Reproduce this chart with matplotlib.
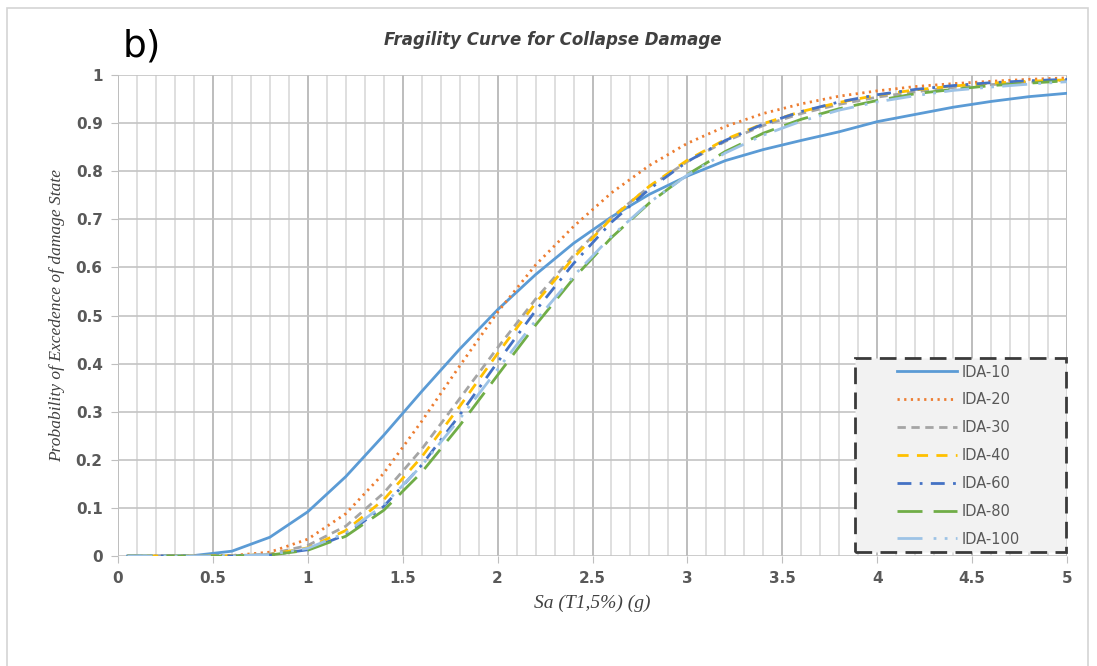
import matplotlib.pyplot as plt
from matplotlib.patches import Rectangle

# Sa values (g)
sa = [0.05, 0.2, 0.4, 0.6, 0.8, 1.0, 1.2, 1.4, 1.6, 1.8, 2.0, 2.2, 2.4,
      2.6, 2.8, 3.0, 3.2, 3.4, 3.6, 3.8, 4.0, 4.2, 4.4, 4.6, 4.8, 5.0]

ida10 = [0.0, 0.0, 0.001, 0.010, 0.039, 0.092, 0.165, 0.251, 0.342, 0.430, 0.512, 0.585, 0.650,
         0.705, 0.752, 0.790, 0.822, 0.845, 0.864, 0.882, 0.903, 0.918, 0.933, 0.945, 0.955, 0.962]
ida20 = [0.0, 0.0, 0.0, 0.001, 0.008, 0.035, 0.088, 0.172, 0.280, 0.395, 0.507, 0.605, 0.685,
         0.755, 0.812, 0.858, 0.893, 0.920, 0.940, 0.956, 0.967, 0.976, 0.982, 0.987, 0.991, 0.994]
ida30 = [0.0, 0.0, 0.0, 0.0003, 0.004, 0.022, 0.062, 0.131, 0.222, 0.327, 0.433, 0.534, 0.625,
         0.704, 0.768, 0.820, 0.862, 0.895, 0.920, 0.939, 0.954, 0.965, 0.974, 0.980, 0.985, 0.989]
ida40 = [0.0, 0.0, 0.0, 0.0002, 0.003, 0.017, 0.053, 0.117, 0.206, 0.311, 0.421, 0.526, 0.620,
         0.702, 0.769, 0.823, 0.866, 0.899, 0.924, 0.943, 0.958, 0.969, 0.977, 0.983, 0.987, 0.990]
ida60 = [0.0, 0.0, 0.0, 0.0001, 0.002, 0.013, 0.044, 0.103, 0.189, 0.293, 0.403, 0.510, 0.608,
         0.694, 0.763, 0.820, 0.864, 0.898, 0.924, 0.944, 0.959, 0.970, 0.978, 0.984, 0.988, 0.991]
ida80 = [0.0, 0.0, 0.0, 0.0001, 0.002, 0.012, 0.041, 0.095, 0.174, 0.271, 0.376, 0.480, 0.577,
         0.662, 0.734, 0.793, 0.841, 0.879, 0.908, 0.930, 0.947, 0.961, 0.970, 0.978, 0.983, 0.988]
ida100 = [0.0, 0.0, 0.0, 0.0002, 0.003, 0.016, 0.048, 0.106, 0.188, 0.285, 0.388, 0.489, 0.582,
          0.665, 0.735, 0.792, 0.838, 0.875, 0.904, 0.927, 0.944, 0.957, 0.968, 0.975, 0.981, 0.986]

xticks = [0, 0.5, 1, 1.5, 2, 2.5, 3, 3.5, 4, 4.5, 5]
xticklabels = ['0', '0.5', '1', '1.5', '2', '2.5', '3', '3.5', '4', '4.5', '5']
yticks = [0, 0.1, 0.2, 0.3, 0.4, 0.5, 0.6, 0.7, 0.8, 0.9, 1.0]
yticklabels = ['0', '0.1', '0.2', '0.3', '0.4', '0.5', '0.6', '0.7', '0.8', '0.9', '1']
xminor = [i / 10 for i in range(51)]

series = [
    ('IDA-10', ida10, '#5b9bd5', '-'),
    ('IDA-20', ida20, '#ed7d31', (0, (0.8, 1.6))),
    ('IDA-30', ida30, '#a5a5a5', (0, (3, 2))),
    ('IDA-40', ida40, '#ffc000', (0, (4, 3))),
    ('IDA-60', ida60, '#4472c4', (0, (5, 3, 1, 3))),
    ('IDA-80', ida80, '#70ad47', (0, (9, 4))),
    ('IDA-100', ida100, '#9dc3e6', (0, (9, 4, 1, 3, 1, 3))),
]

fig = plt.figure(figsize=(10.97, 6.66), dpi=100)
ax = fig.add_axes([118/1097, 1 - 556/666, 949/1097, 481/666])

# light frame around the whole picture
fig.patches.append(Rectangle((7/1097, -0.01), 1081/1097, 1 - 8/666 + 0.01,
                             transform=fig.transFigure, fill=False,
                             edgecolor='#d4d4d4', linewidth=1.2))

for name, vals, col, ls in series:
    ax.plot(sa, vals, color=col, linestyle=ls, linewidth=2, label=name)

ax.set_xlim(0, 5)
ax.set_ylim(0, 1)
ax.set_xticks(xticks, xticklabels, fontweight='bold')
ax.set_yticks(yticks, yticklabels, fontweight='bold')
ax.set_xticks(xminor, minor=True)
ax.grid(which='major', axis='x', color='#b8b8b8', linewidth=1.3)
ax.grid(which='minor', axis='x', color='#d6d6d6', linewidth=1.1)
ax.grid(which='major', axis='y', color='#c4c4c4', linewidth=1.2)
ax.set_axisbelow(True)
for s in ax.spines.values():
    s.set_visible(False)
ax.tick_params(which='major', length=5, color='#bfbfbf', labelsize=11,
               labelcolor='#595959', pad=6)
ax.tick_params(which='minor', length=0)

ax.set_xlabel('Sa (T1,5%) (g)', family='Liberation Serif', style='italic',
              fontsize=14, color='#404040', labelpad=6)
ax.set_ylabel('Probability of Excedence of damage State', family='Liberation Serif',
              style='italic', fontsize=12.5, color='#404040', labelpad=8)

fig.text(553/1097, 1 - 40/666, 'Fragility Curve for Collapse Damage', ha='center',
         va='center', style='italic', fontweight='bold', fontsize=12, color='#404040')
fig.text(123/1097, 1 - 46/666, 'b)', ha='left', va='center', fontsize=27, color='black')

# legend box drawn by hand (grey fill, dashed dark border)
ax.add_patch(Rectangle((0.7766, 0.0083), 0.2223, 0.4033, transform=ax.transAxes,
                       facecolor='#f2f2f2', edgecolor='#3a3a3a', linewidth=2,
                       linestyle=(0, (6, 3)), zorder=5, clip_on=False))
leg = ax.legend(loc='upper left', bbox_to_anchor=(0.821, 0.398), fontsize=10.5,
                handlelength=4.1, handletextpad=0.35, labelspacing=0.88,
                borderpad=0, borderaxespad=0, frameon=False)
leg.set_zorder(6)
for t in leg.get_texts():
    t.set_color('#595959')

plt.savefig('out.png', dpi=100)
